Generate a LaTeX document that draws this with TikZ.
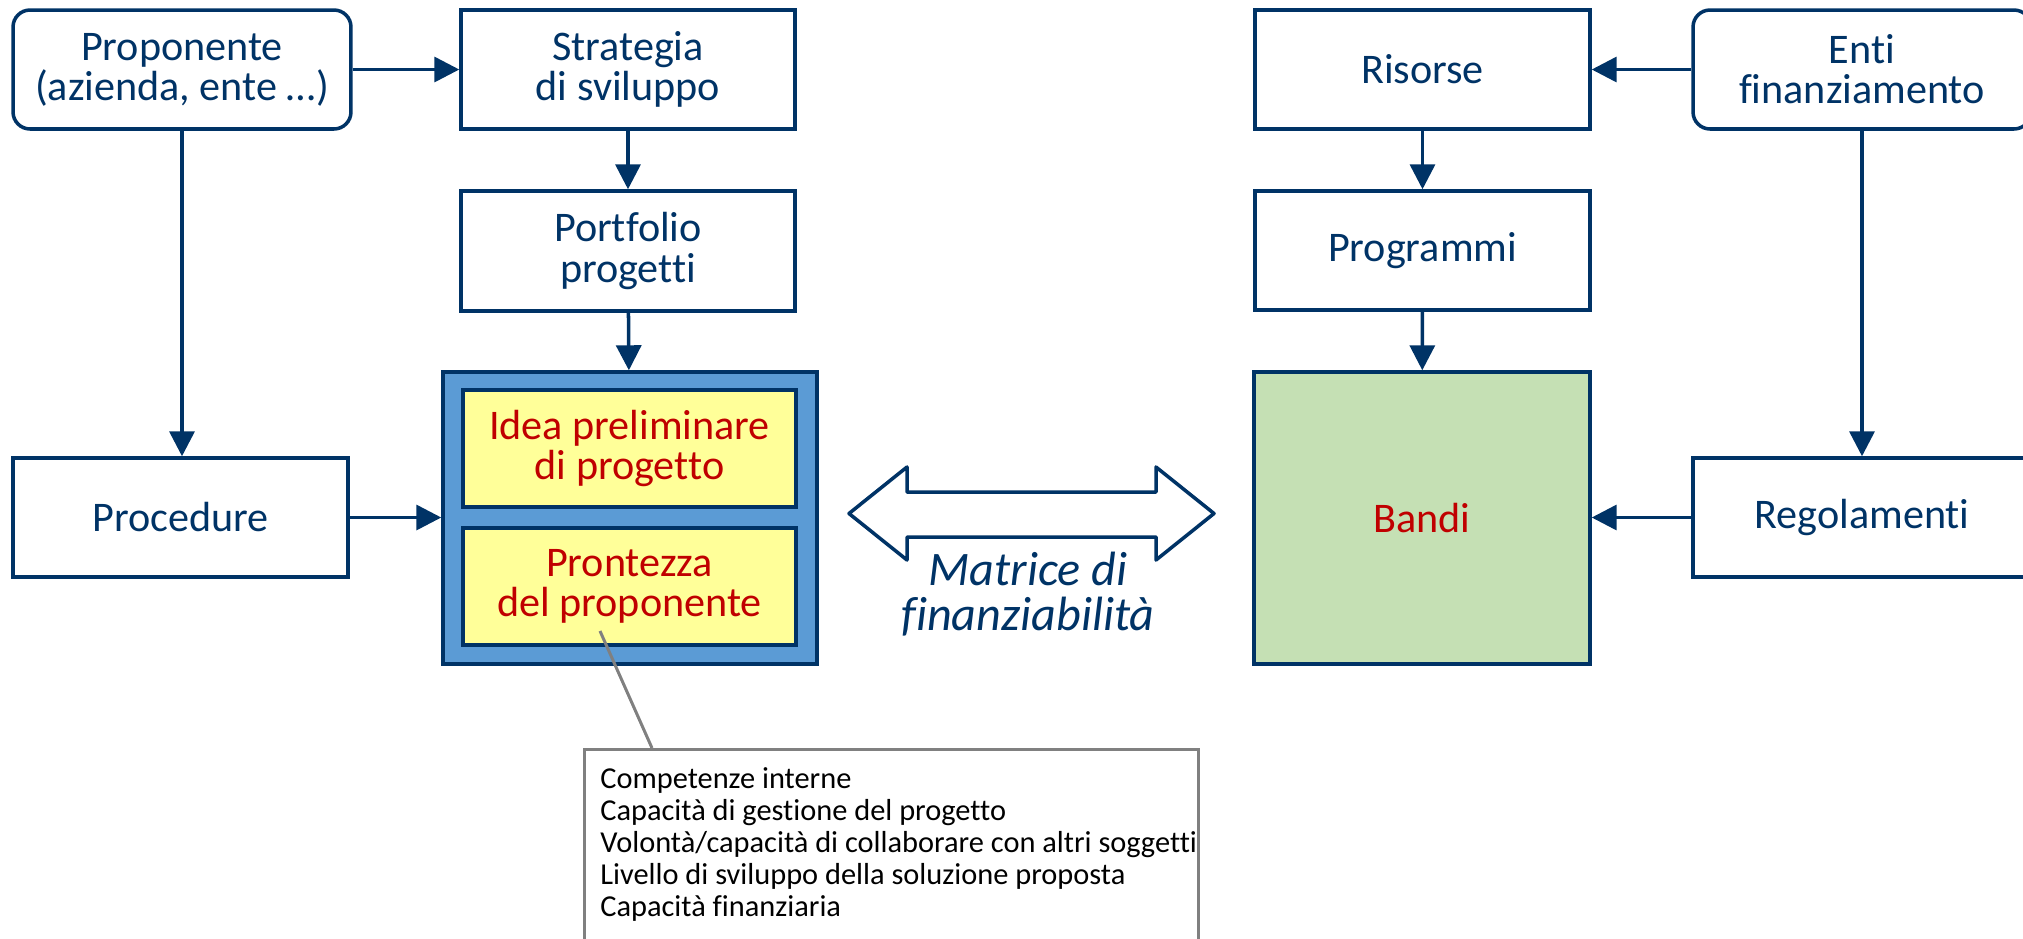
\documentclass[tikz,border=0pt]{standalone}
\usepackage{fontspec}
\setmainfont{Carlito}[Ligatures=NoCommon]
\usetikzlibrary{arrows.meta}
\definecolor{navy}{RGB}{0,51,102}
\definecolor{darkred}{RGB}{192,0,0}
\definecolor{paleyellow}{RGB}{255,255,153}
\definecolor{midblue}{RGB}{91,155,213}
\definecolor{palegreen}{RGB}{197,224,180}
\definecolor{notegray}{RGB}{128,128,128}
\newcommand\boxfont{\fontsize{24}{22.8}\selectfont}
\newcommand\matchfont{\fontsize{27.4}{25.6}\selectfont\itshape}
\newcommand\notefont{\fontsize{17.3}{18.2}\selectfont}

\begin{document}
\begin{tikzpicture}[x=0.02cm, y=-0.02cm,
    box/.style={draw=navy, line width=2pt, fill=white, text=navy, align=center, inner sep=0pt,
      minimum width=6.7cm, minimum height=2.38cm, font=\boxfont},
    roundbox/.style={box, rounded corners=0.34cm, minimum width=6.76cm},
    ideabox/.style={box, fill=paleyellow, text=darkred, minimum width=6.66cm, minimum height=2.34cm},
    link/.style={draw=navy, line width=2pt, -{Triangle[length=0.5cm, width=0.5cm]}}]
    \useasboundingbox (0,0) rectangle (2023,938);

    % Left side: proponent
    \node[roundbox] (prop) at (182,69.5) {Proponente\\(azienda, ente …)};
    \node[box, minimum width=6.68cm] (strat) at (628,69.5) {Strategia\\di sviluppo};
    \node[box, minimum width=6.68cm, minimum height=2.4cm] (port) at (628,251) {Portfolio\\progetti};
    \node[box] (proc) at (180.5,517.5) {Procedure};

    % Project frame with the two inner boxes
    \node[box, fill=midblue, minimum width=7.48cm, minimum height=5.84cm] (frame) at (630,518) {};
    \node[ideabox] (idea) at (629.5,448.5) {Idea preliminare\\di progetto};
    \node[ideabox] (ready) at (629.5,586.5) {Prontezza\\del proponente};

    % Right side: funding
    \node[box] (res) at (1422.5,69.5) {Risorse};
    \node[roundbox] (enti) at (1862,69.5) {Enti\\finanziamento};
    \node[box] (prog) at (1422.5,250.5) {Programmi};
    \node[box, fill=palegreen, text=darkred, minimum width=6.72cm, minimum height=5.84cm] (bandi) at (1422,518) {Bandi};
    \node[box, minimum width=6.76cm] (rules) at (1862,517.5) {Regolamenti};

    \draw[link] (prop) -- (strat);
    \draw[link] (prop) -- (prop |- proc.north);
    \draw[link] (strat) -- (port);
    \draw[link] (port) -- (frame);
    \draw[link] (proc) -- (proc -| frame.west);
    \draw[link] (enti) -- (res);
    \draw[link] (res) -- (prog);
    \draw[link] (prog) -- (bandi);
    \draw[link] (enti) -- (enti |- rules.north);
    \draw[link] (rules) -- (rules -| bandi.east);

    % Double arrow between the two sides
    \draw[navy, line width=2pt, fill=white, line join=round]
      (849,513.5) -- (907,467) -- (907,492) -- (1156,492) -- (1156,467) -- (1214,513.5)
      -- (1156,560) -- (1156,537) -- (907,537) -- (907,560) -- cycle;
    \node[text=navy, font=\matchfont, align=center] (match) at (1028,594) {Matrice di\\finanziabilità};

    % Callout
    \node[draw=notegray, line width=1.7pt, anchor=north west, minimum width=12.28cm,
      minimum height=5cm] (notes) at (583,748) {};
    \node[anchor=north west, inner sep=0pt, align=left, font=\notefont] (notetext) at (600,767)
      {Competenze interne\\Capacità di gestione del progetto\\Volontà/capacità di collaborare con altri soggetti\\Livello di sviluppo della soluzione proposta\\Capacità finanziaria};
    \coordinate (lead) at (600,631);
    \draw[notegray, line width=1.7pt] (lead) -- ([xshift=1.38cm]notes.north west);
\end{tikzpicture}
\end{document}
